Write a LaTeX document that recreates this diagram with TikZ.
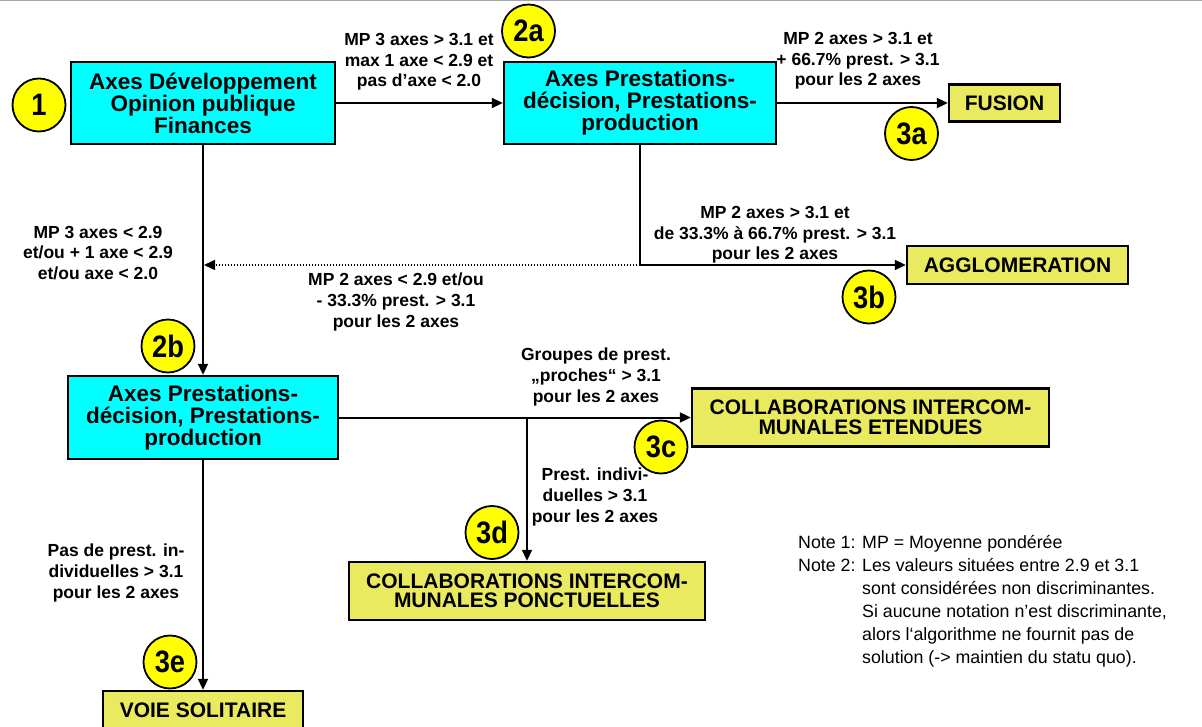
\documentclass[tikz,border=0pt]{standalone}
\usepackage{fontspec}
\setmainfont{Liberation Sans}
\newfontfamily\chiffre[FakeStretch=0.88]{Liberation Sans}
\usetikzlibrary{arrows.meta}
\definecolor{turq}{RGB}{0,255,255}
\definecolor{paille}{RGB}{234,234,96}
\definecolor{jaune}{RGB}{255,255,0}
\begin{document}
\begin{tikzpicture}[x=1pt,y=-1pt,
axe/.style={draw,line width=2.4pt,fill=turq,inner sep=0pt,align=center,font=\bfseries\fontsize{22.5}{22}\selectfont},
fin/.style={draw,line width=2.4pt,fill=paille,inner sep=0pt,align=center,font=\bfseries\fontsize{21}{19.5}\selectfont},
num/.style={circle,draw,line width=1.8pt,fill=jaune,minimum size=53pt,inner sep=0pt,font=\chiffre\bfseries\fontsize{31}{31}\selectfont},
cond/.style={align=center,inner sep=0pt,font=\bfseries\fontsize{17.5}{20.7}\selectfont},
fl/.style={line width=2pt,-{Triangle[length=11pt,width=10pt]}}]
\useasboundingbox(0,0)rectangle(1202,727);
\draw[gray!70,line width=2pt](0,0)--(1202,0);
\node[axe,minimum width=264pt,minimum height=82pt](b1)at(203,103){Axes Développement\\Opinion publique\\Finances};
\node[axe,minimum width=272pt,minimum height=82pt](b2a)at(640,103){Axes Prestations-\\décision, Prestations-\\production};
\node[axe,minimum width=270pt,minimum height=83pt](b2b)at(203,417.5){Axes Prestations-\\décision, Prestations-\\production};
\node[fin,minimum width=111pt,minimum height=37pt](fusion)at(1004.5,103){FUSION};
\node[fin,minimum width=221pt,minimum height=38pt](agglo)at(1017.5,265){AGGLOMERATION};
\node[fin,minimum width=357pt,minimum height=58pt](cie)at(870.5,417.5){COLLABORATIONS INTERCOM-\\MUNALES ETENDUES};
\node[fin,minimum width=356pt,minimum height=58pt](cip)at(527,591){COLLABORATIONS INTERCOM-\\MUNALES PONCTUELLES};
\node[fin,minimum width=200pt,minimum height=38pt](voie)at(203,710){VOIE SOLITAIRE};
\draw[fl](b1)--(b2a);
\draw[fl](b1)--(b2b);
\draw[fl](b2a)--(fusion);
\draw[fl](b2a.south)|-(agglo.west);
\coordinate(coude)at(b2a.south|-agglo.west);
\draw[fl,line width=1.5pt,dash pattern=on 1.5pt off 1.5pt,shorten >=1pt](coude)--(coude-|b1.south);
\draw[fl](b2b)--(cie);
\coordinate(fourche)at(b2b.east-|cip.north);
\draw[fl](fourche)--(cip.north);
\draw[fl](b2b)--(voie);
\node[num](n1)at(39,105){1};
\node[num](n2a)at(528.5,31){2a};
\node[num](n2b)at(168,346){2b};
\node[num](n3a)at(911.5,133.5){3a};
\node[num](n3b)at(869,297){3b};
\node[num](n3c)at(661,447){3c};
\node[num](n3d)at(492,532.5){3d};
\node[num](n3e)at(170,662){3e};
\node[cond](c1)at(419,62){MP 3 axes > 3.1 et\\max 1 axe < 2.9 et\\pas d’axe < 2.0};
\node[cond](c2)at(858,61){MP 2 axes > 3.1 et\\+ 66.7\% prest. > 3.1\\pour les 2 axes};
\node[cond](c3)at(775,235){MP 2 axes > 3.1 et\\de 33.3\% à 66.7\% prest. > 3.1\\pour les 2 axes};
\node[cond](c4)at(98,253){MP 3 axes < 2.9\\et/ou + 1 axe < 2.9\\et/ou axe < 2.0};
\node[cond](c5)at(396,302){MP 2 axes < 2.9 et/ou\\- 33.3\% prest. > 3.1\\pour les 2 axes};
\node[cond](c6)at(596,377){Groupes de prest.\\„proches“ > 3.1\\pour les 2 axes};
\node[cond](c7)at(595,497){Prest. indivi-\\duelles > 3.1\\pour les 2 axes};
\node[cond](c8)at(116,573){Pas de prest. in-\\dividuelles > 3.1\\pour les 2 axes};
\node[anchor=north west,inner sep=0pt,font=\fontsize{17.8}{23}\selectfont](notes)at(798,532){\begin{tabular}[t]{@{}l@{ }l@{}}Note 1:&MP = Moyenne pondérée\\
Note 2:&Les valeurs situées entre 2.9 et 3.1\\
&sont considérées non discriminantes.\\
&Si aucune notation n’est discriminante,\\
&alors l‘algorithme ne fournit pas de\\
&solution (-> maintien du statu quo).\end{tabular}};
\end{tikzpicture}
\end{document}
